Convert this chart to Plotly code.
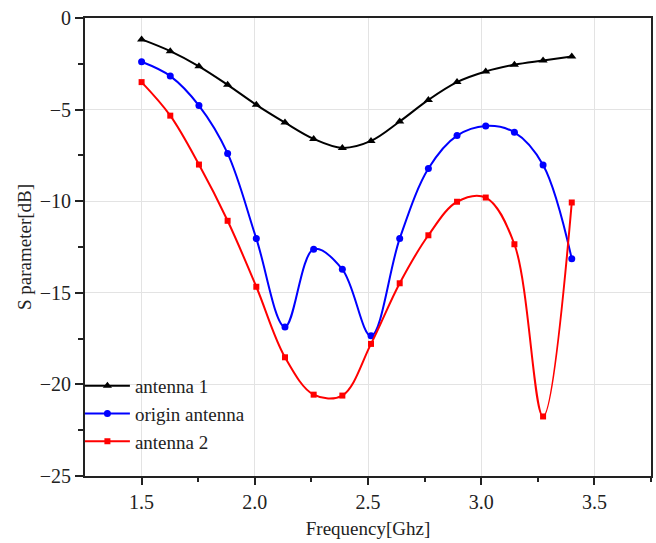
import plotly.graph_objects as go

freq = [1.5, 1.6267, 1.7533, 1.88, 2.0067, 2.1333, 2.26, 2.3867, 2.5133,
        2.64, 2.7667, 2.8933, 3.02, 3.1467, 3.2733, 3.4]

antenna1 = [-1.17, -1.81, -2.64, -3.65, -4.74, -5.71, -6.60, -7.09, -6.71,
            -5.65, -4.47, -3.50, -2.92, -2.55, -2.32, -2.10]
origin_antenna = [-2.39, -3.17, -4.78, -7.39, -12.04, -16.86, -12.62, -13.72, -17.35,
                  -12.04, -8.22, -6.42, -5.89, -6.24, -8.02, -13.14]
antenna2 = [-3.50, -5.33, -8.0, -11.07, -14.67, -18.52, -20.56, -20.61, -17.79,
            -14.48, -11.86, -10.03, -9.80, -12.35, -21.75, -10.07]

x_ticks = [1.5, 2.0, 2.5, 3.0, 3.5]
x_tick_labels = ["1.5", "2.0", "2.5", "3.0", "3.5"]

names = ["antenna 1", "origin antenna", "antenna 2"]
colors = ["#000000", "#0000ff", "#ff0000"]
symbols = ["triangle-up", "circle", "square"]
sizes = [8, 7, 6]
series = [antenna1, origin_antenna, antenna2]

fig = go.Figure()
for name, col, sym, sz, ys in zip(names, colors, symbols, sizes, series):
    fig.add_trace(go.Scatter(
        x=freq, y=ys, name=name, mode="lines+markers",
        line=dict(color=col, width=2, shape="spline", smoothing=1.0),
        marker=dict(symbol=sym, size=sz, color=col),
    ))

font_family = "Liberation Serif, Times New Roman, serif"

fig.update_layout(
    width=656, height=543,
    margin=dict(l=85, r=5, t=18, b=67),
    paper_bgcolor="white", plot_bgcolor="white",
    font=dict(family=font_family, size=20, color="#222222"),
    showlegend=True,
    legend=dict(x=-0.009, y=0.238, xanchor="left", yanchor="top",
                bgcolor="rgba(0,0,0,0)", borderwidth=0,
                font=dict(family=font_family, size=19, color="#222222"),
                itemwidth=45, tracegroupgap=0),
)

fig.update_xaxes(
    range=[1.25, 3.75], tickvals=x_ticks, ticktext=x_tick_labels,
    ticks="outside", ticklen=7, tickwidth=2, tickcolor="#222222",
    tickfont=dict(size=20),
    minor=dict(tickvals=[1.75, 2.25, 2.75, 3.25, 3.75], ticks="outside", ticklen=4, tickwidth=2,
               tickcolor="#222222", showgrid=False),
    showline=True, linecolor="#222222", linewidth=2, mirror=True,
    showgrid=True, gridcolor="#e3e3e3", gridwidth=1, zeroline=False,
    automargin=False,
    title=dict(text="Frequency[Ghz]", font=dict(size=19), standoff=10),
)
fig.update_yaxes(
    range=[-25, 0], dtick=5, tick0=0,
    ticks="outside", ticklen=8, tickwidth=2, tickcolor="#222222",
    tickfont=dict(size=20),
    minor=dict(dtick=2.5, tick0=0, ticks="outside", ticklen=5, tickwidth=2,
               tickcolor="#222222", showgrid=False),
    showline=True, linecolor="#222222", linewidth=2, mirror=True,
    showgrid=True, gridcolor="#e3e3e3", gridwidth=1, zeroline=False,
    automargin=False,
    title=dict(text="S parameter[dB]", font=dict(size=19), standoff=3),
)

fig.write_html("out.html", config={"displayModeBar": False},
               post_script="document.body.style.margin='0px';document.body.style.overflow='hidden';")
